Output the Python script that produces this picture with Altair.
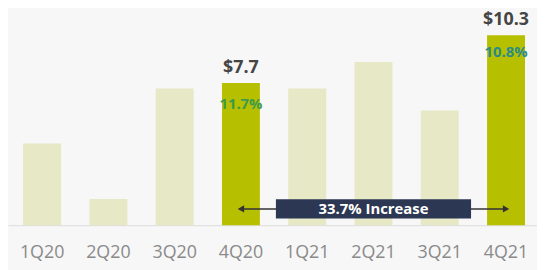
import altair as alt
import pandas as pd

quarters = ["1Q20", "2Q20", "3Q20", "4Q20", "1Q21", "2Q21", "3Q21", "4Q21"]
values = [4.43, 1.42, 7.41, 7.7, 7.41, 8.85, 6.21, 10.3]
highlight = [False, False, False, True, False, False, False, True]

label_q = ["4Q20", "4Q21"]
label_val = [7.7, 10.3]
label_txt = ["$7.7", "$10.3"]
pct_txt = ["11.7%", "10.8%"]
pct_col = ["#3d9a4a", "#2b8c86"]
pct_dy = [21, 17]

ann_from = "4Q20"
ann_to = "4Q21"
ann_mid = "2Q21"
ann_y = 0.88
ann_text = "33.7% Increase"

FONT = "Open Sans"

df = pd.DataFrame({"q": quarters, "v": values, "hl": highlight})
lab = pd.DataFrame({"q": label_q, "v": label_val, "t": label_txt, "p": pct_txt, "c": pct_col})
ann = pd.DataFrame({"a": [ann_from], "b": [ann_to], "m": [ann_mid], "y": [ann_y],
                    "y1": [ann_y - 0.52], "y2": [ann_y + 0.52], "t": [ann_text]})
heads = pd.DataFrame({"q": [ann_from, ann_to], "y": [ann_y, ann_y],
                      "s": ["triangle-left", "triangle-right"]})

xscale = alt.Scale(domain=quarters, paddingInner=0.4275, paddingOuter=0.2048, align=0.558)
xs = alt.X("q:N", scale=xscale,
           axis=alt.Axis(title=None, labelAngle=0, ticks=False, labelFontSize=18,
                         labelColor="#8a8a8a", labelFont=FONT, labelPadding=19,
                         domainColor="#dcdcdc", domainWidth=1))
ys = alt.Scale(domain=[0, 11.49], nice=False, zero=True)

bars = alt.Chart(df).mark_bar().encode(
    x=xs,
    y=alt.Y("v:Q", scale=ys, axis=None),
    color=alt.Color("hl:N", scale=alt.Scale(domain=[False, True], range=["#e6e8c6", "#b6c000"]), legend=None),
)

vlab = alt.Chart(lab).mark_text(fontSize=18, fontWeight="bold", font=FONT, color="#454545",
                                baseline="alphabetic", dy=-10).encode(
    x=alt.X("q:N", scale=xscale), y=alt.Y("v:Q", scale=ys), text="t:N")

plabs = [
    alt.Chart(lab).transform_filter(alt.datum.q == q).mark_text(
        fontSize=15, fontWeight="bold", font=FONT, baseline="middle", dy=d).encode(
        x=alt.X("q:N", scale=xscale), y=alt.Y("v:Q", scale=ys), text="p:N",
        color=alt.Color("c:N", scale=None))
    for q, d in zip(label_q, pct_dy)
]

line = alt.Chart(ann).mark_rule(color="#333333", strokeWidth=1.5).encode(
    x=alt.X("a:N", scale=xscale), x2="b:N", y=alt.Y("y:Q", scale=ys))

arrows = alt.Chart(heads).mark_point(filled=True, color="#333333", size=55, opacity=1).encode(
    x=alt.X("q:N", scale=xscale), y=alt.Y("y:Q", scale=ys),
    shape=alt.Shape("s:N", scale=None))

box = alt.Chart(ann).mark_bar(width=197, color="#2c3753").encode(
    x=alt.X("m:N", scale=xscale), y=alt.Y("y1:Q", scale=ys), y2="y2:Q")

btxt = alt.Chart(ann).mark_text(fontSize=15, fontWeight="bold", font=FONT, color="white",
                                baseline="middle").encode(
    x=alt.X("m:N", scale=xscale), y=alt.Y("y:Q", scale=ys), text="t:N")

chart = alt.layer(bars, vlab, *plabs, line, arrows, box, btxt).properties(
    width=534, height=214,
    autosize=alt.AutoSizeParams(type="none"),
    padding={"left": 0, "top": 4, "right": 0, "bottom": 44},
    background="#f7f7f7",
).configure_view(strokeWidth=0)

chart.save("out.html", embed_options={"renderer": "svg", "actions": False})
